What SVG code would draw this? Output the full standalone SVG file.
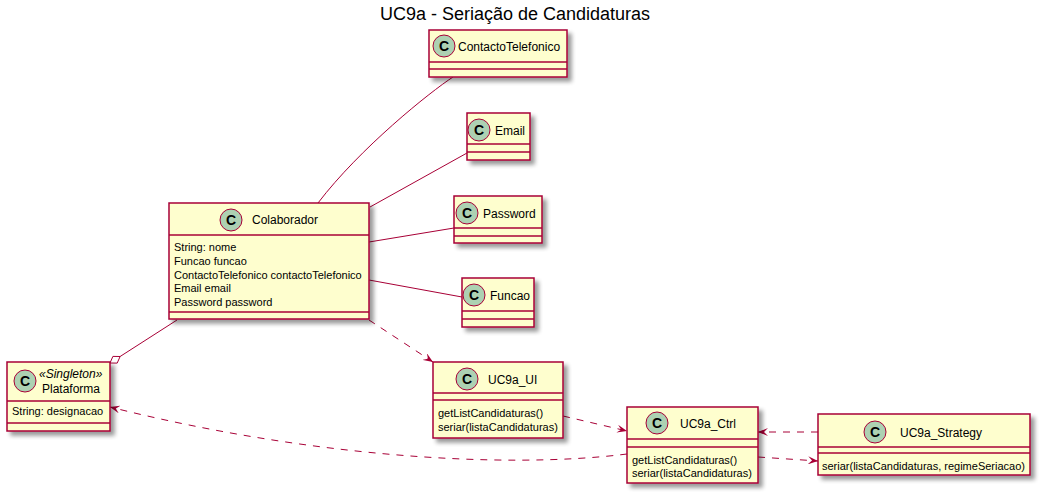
<svg xmlns="http://www.w3.org/2000/svg" width="1043" height="496" viewBox="0 0 1043 496">
<style>
.box{fill:#FEFECE;stroke:#A80036;stroke-width:1.5}
.sep{stroke:#A80036;stroke-width:1.5}
.ci{fill:#ADD1B2;stroke:#A80036;stroke-width:1}
.cl{font-family:"Liberation Sans",Arial,sans-serif;font-size:14px;font-weight:bold;fill:#000;text-anchor:middle}
.nm{font-family:"Liberation Sans",Arial,sans-serif;font-size:12px;fill:#000}
.st{font-family:"Liberation Sans",Arial,sans-serif;font-size:12px;font-style:italic;fill:#000}
.at{font-family:"Liberation Sans",Arial,sans-serif;font-size:11px;fill:#000}
.ttl{font-family:"Liberation Sans",Arial,sans-serif;font-size:18px;fill:#000;text-anchor:middle}
.ln{fill:none;stroke:#A80036;stroke-width:1}
.dl{fill:none;stroke:#A80036;stroke-width:1;stroke-dasharray:7,7}
</style>
<defs>
<filter id="sh" x="-10%" y="-10%" width="130%" height="140%">
<feGaussianBlur in="SourceAlpha" stdDeviation="2"/>
<feOffset dx="4" dy="4" result="b"/>
<feComponentTransfer><feFuncA type="linear" slope="0.4"/></feComponentTransfer>
<feMerge><feMergeNode/><feMergeNode in="SourceGraphic"/></feMerge>
</filter>
<marker id="ar" viewBox="0 0 10 8" refX="10" refY="4" markerWidth="10" markerHeight="8" markerUnits="userSpaceOnUse" orient="auto">
<path d="M0,0 L10,4 L0,8 L4,4 Z" fill="#A80036"/>
</marker>
</defs>
<rect width="1043" height="496" fill="#FFFFFF"/>
<text class="ttl" x="515" y="20">UC9a - Seriação de Candidaturas</text>

<g id="connectors">
<path class="ln" d="M453,77 C430,92 360,148 318,203"/>
<path class="ln" d="M467,153 L370,207"/>
<path class="ln" d="M454,228 L369,242"/>
<path class="ln" d="M462,297 L369,280"/>
<path class="ln" d="M120.1,356.5 L177,320"/>
<polygon points="110,363 117.2,363.1 120.1,356.5 112.9,356.4" fill="#FFFFFF" stroke="#A80036" stroke-width="1"/>
<path class="dl" d="M369,320 L433,362" marker-end="url(#ar)"/>
<path class="dl" d="M563,416 L627,431" marker-end="url(#ar)"/>
<path class="dl" d="M627,454 C500,470 300,455 110,407" marker-end="url(#ar)"/>
<path class="dl" d="M818,432 L758,432" marker-end="url(#ar)"/>
<path class="dl" d="M758,457 L818,461" marker-end="url(#ar)"/>
</g>

<g id="ContactoTelefonico">
<rect class="box" x="429" y="30" width="138" height="47" filter="url(#sh)"/>
<line class="sep" x1="429" y1="62" x2="567" y2="62"/>
<line class="sep" x1="429" y1="69" x2="567" y2="69"/>
<circle class="ci" cx="444" cy="46" r="11"/>
<text class="cl" x="444" y="51">C</text>
<text class="nm" x="458" y="51">ContactoTelefonico</text>
</g>

<g id="Email">
<rect class="box" x="467" y="113" width="63" height="47" filter="url(#sh)"/>
<line class="sep" x1="467" y1="144" x2="530" y2="144"/>
<line class="sep" x1="467" y1="152" x2="530" y2="152"/>
<circle class="ci" cx="479" cy="130" r="11"/>
<text class="cl" x="479" y="135">C</text>
<text class="nm" x="495" y="135">Email</text>
</g>

<g id="Password">
<rect class="box" x="454" y="196" width="88" height="47" filter="url(#sh)"/>
<line class="sep" x1="454" y1="228" x2="542" y2="228"/>
<line class="sep" x1="454" y1="236" x2="542" y2="236"/>
<circle class="ci" cx="467" cy="213" r="11"/>
<text class="cl" x="467" y="218">C</text>
<text class="nm" x="483" y="218">Password</text>
</g>

<g id="Funcao">
<rect class="box" x="462" y="278" width="72" height="49" filter="url(#sh)"/>
<line class="sep" x1="462" y1="311" x2="534" y2="311"/>
<line class="sep" x1="462" y1="319" x2="534" y2="319"/>
<circle class="ci" cx="474" cy="295" r="11"/>
<text class="cl" x="474" y="300">C</text>
<text class="nm" x="490" y="300">Funcao</text>
</g>

<g id="Colaborador">
<rect class="box" x="169" y="203" width="200" height="116" filter="url(#sh)"/>
<line class="sep" x1="169" y1="235" x2="369" y2="235"/>
<line class="sep" x1="169" y1="312" x2="369" y2="312"/>
<circle class="ci" cx="231" cy="220" r="11"/>
<text class="cl" x="231" y="225">C</text>
<text class="nm" x="252" y="224">Colaborador</text>
<text class="at" x="174" y="251">String: nome</text>
<text class="at" x="174" y="264.8">Funcao funcao</text>
<text class="at" x="174" y="278.6">ContactoTelefonico contactoTelefonico</text>
<text class="at" x="174" y="292.4">Email email</text>
<text class="at" x="174" y="306.2">Password password</text>
</g>

<g id="Plataforma">
<rect class="box" x="7" y="362" width="103" height="69" filter="url(#sh)"/>
<line class="sep" x1="7" y1="401" x2="110" y2="401"/>
<line class="sep" x1="7" y1="423" x2="110" y2="423"/>
<circle class="ci" cx="25" cy="381" r="11"/>
<text class="cl" x="25" y="386">C</text>
<text class="st" x="39" y="378">«Singleton»</text>
<text class="nm" x="42" y="393">Plataforma</text>
<text class="at" x="12" y="415">String: designacao</text>
</g>

<g id="UC9a_UI">
<rect class="box" x="433" y="362" width="130" height="76" filter="url(#sh)"/>
<line class="sep" x1="433" y1="393" x2="563" y2="393"/>
<line class="sep" x1="433" y1="400" x2="563" y2="400"/>
<circle class="ci" cx="467" cy="379" r="11"/>
<text class="cl" x="467" y="384">C</text>
<text class="nm" x="488" y="384">UC9a_UI</text>
<text class="at" x="438" y="417">getListCandidaturas()</text>
<text class="at" x="438" y="431">seriar(listaCandidaturas)</text>
</g>

<g id="UC9a_Ctrl">
<rect class="box" x="627" y="407" width="131" height="76" filter="url(#sh)"/>
<line class="sep" x1="627" y1="439" x2="758" y2="439"/>
<line class="sep" x1="627" y1="447" x2="758" y2="447"/>
<circle class="ci" cx="657" cy="423" r="11"/>
<text class="cl" x="657" y="428">C</text>
<text class="nm" x="680" y="428">UC9a_Ctrl</text>
<text class="at" x="632" y="464">getListCandidaturas()</text>
<text class="at" x="632" y="477">seriar(listaCandidaturas)</text>
</g>

<g id="UC9a_Strategy">
<rect class="box" x="818" y="414" width="212" height="61" filter="url(#sh)"/>
<line class="sep" x1="818" y1="447" x2="1030" y2="447"/>
<line class="sep" x1="818" y1="453" x2="1030" y2="453"/>
<circle class="ci" cx="875" cy="432" r="11"/>
<text class="cl" x="875" y="437">C</text>
<text class="nm" x="900" y="437">UC9a_Strategy</text>
<text class="at" x="822" y="470">seriar(listaCandidaturas, regimeSeriacao)</text>
</g>
</svg>
